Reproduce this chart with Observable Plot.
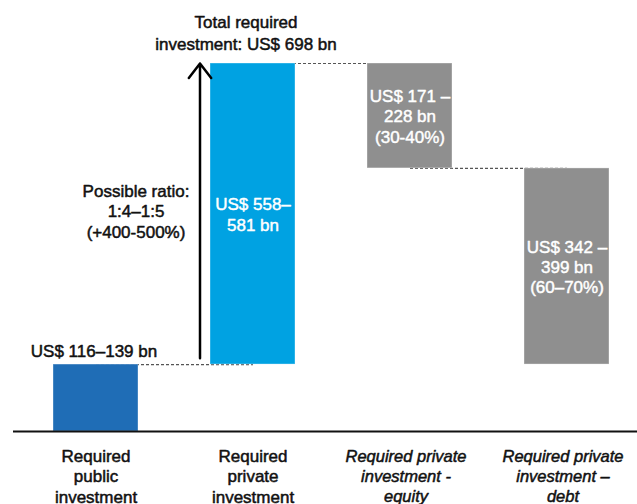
<!DOCTYPE html>
<html>
<head>
<meta charset="utf-8">
<script src="https://cdn.jsdelivr.net/npm/d3@7"></script>
<script src="https://cdn.jsdelivr.net/npm/@observablehq/plot@0.6"></script>
<style>
  html, body { margin: 0; padding: 0; background: #fff; }
  svg { display: block; }
</style>
</head>
<body>
<div id="chart"></div>
<script>
// ---- data ----
const categories = [
  "Required public investment",
  "Required private investment",
  "Required private investment - equity",
  "Required private investment – debt"
];
const categoryLabels = [
  "Required\npublic\ninvestment",
  "Required\nprivate\ninvestment",
  "Required private\ninvestment -\nequity",
  "Required private\ninvestment –\ndebt"
];
const italicCategory = [false, false, true, true];
// waterfall segments (US$ bn, midpoints of the stated ranges)
const barStart = [0, 127, 698, 499];
const barEnd   = [127, 698, 499, 127];
const barColors = ["#1f6db6", "#00a2e2", "#8f8f8f", "#8f8f8f"];
const barLabels = [
  "",
  "US$ 558–\n581 bn",
  "US$ 171 –\n228 bn\n(30-40%)",
  "US$ 342 –\n399 bn\n(60–70%)"
];
const publicLabel = "US$ 116–139 bn";
const publicHigh = 139;
const totalInvestment = 698;
const totalLabel = "Total required\ninvestment: US$ 698 bn";
const ratioLabel = "Possible ratio:\n1:4–1:5\n(+400-500%)";

// ---- derived tables ----
const bars = categories.map((c, i) => ({
  cat: c, y1: barStart[i], y2: barEnd[i], color: barColors[i], label: barLabels[i],
  mid: (barStart[i] + barEnd[i]) / 2
}));
const connectors = [
  {from: categories[0], to: categories[1], y: barEnd[0]},
  {from: categories[1], to: categories[2], y: barEnd[1]},
  {from: categories[2], to: categories[3], y: barEnd[2]}
];
const catRows = categories.map((c, i) => ({cat: c, label: categoryLabels[i], italic: italicCategory[i]}));

const font = "'Liberation Sans', Arial, Helvetica, sans-serif";
const bold = {fill: "#111", stroke: "#111", strokeWidth: 0.5};
const boldWhite = {fill: "#fff", stroke: "#fff", strokeWidth: 0.45};

const chart = Plot.plot({
  width: 637,
  height: 504,
  marginLeft: 13,
  marginRight: 0,
  marginTop: 63,
  marginBottom: 73,
  style: {fontFamily: font, fontSize: "17px", color: "#111", background: "#fff"},
  x: {domain: categories, range: [52.5, 608.5], paddingInner: 0.46, paddingOuter: 0, axis: null},
  y: {domain: [0, totalInvestment], range: [431, 63], axis: null},
  marks: [
    // dashed connectors (drawn beneath bars)
    Plot.link(connectors, {
      x1: "from", x2: "to", y1: "y", y2: "y",
      stroke: "#555", strokeWidth: 1.2, strokeDasharray: "3,2"
    }),
    // bars
    Plot.rectY(bars, {
      x: "cat", y1: "y1", y2: "y2", fill: "color",
      stroke: "#ffffff", strokeOpacity: 0.35, strokeWidth: 1
    }),
    // baseline
    Plot.ruleY([0], {stroke: "#111", strokeWidth: 2}),
    // arrow for private multiplier
    Plot.arrow([{x: categories[1], y1: publicHigh, y2: totalInvestment}], {
      x1: "x", x2: "x", y1: "y1", y2: "y2", dx: -53,
      stroke: "#000", strokeWidth: 2.5, headLength: 11, headAngle: 75
    }),
    // labels inside bars
    Plot.text(bars.filter(d => d.label), {
      x: "cat", y: "mid", text: "label",
      fontSize: 17, lineHeight: 1.2, lineAnchor: "middle", ...boldWhite
    }),
    // public label above first bar
    Plot.text([{x: categories[0], y: barEnd[0], t: publicLabel}], {
      x: "x", y: "y", text: "t", dx: -2, dy: -8, lineAnchor: "bottom", fontSize: 17, ...bold
    }),
    // total label
    Plot.text([{x: categories[1], y: totalInvestment, t: totalLabel}], {
      x: "x", y: "y", text: "t", dx: -7, dy: -14, lineAnchor: "bottom",
      fontSize: 17, lineHeight: 1.25, ...bold
    }),
    // ratio label
    Plot.text([{x: categories[1], y: (publicHigh + totalInvestment) / 2, t: ratioLabel}], {
      x: "x", y: "y", text: "t", dx: -117, lineAnchor: "middle",
      fontSize: 17, lineHeight: 1.2, ...bold
    }),
    // category labels (regular)
    Plot.text(catRows.filter(d => !d.italic), {
      x: "cat", y: () => 0, text: "label", dy: 16, lineAnchor: "top",
      fontSize: 17, lineHeight: 1.2, ...bold
    }),
    // category labels (italic)
    Plot.text(catRows.filter(d => d.italic), {
      x: "cat", y: () => 0, text: "label", dx: -4, dy: 16, lineAnchor: "top",
      fontSize: 16.5, lineHeight: 1.23, fontStyle: "italic", ...bold
    })
  ]
});
document.getElementById("chart").appendChild(chart);
</script>
</body>
</html>
